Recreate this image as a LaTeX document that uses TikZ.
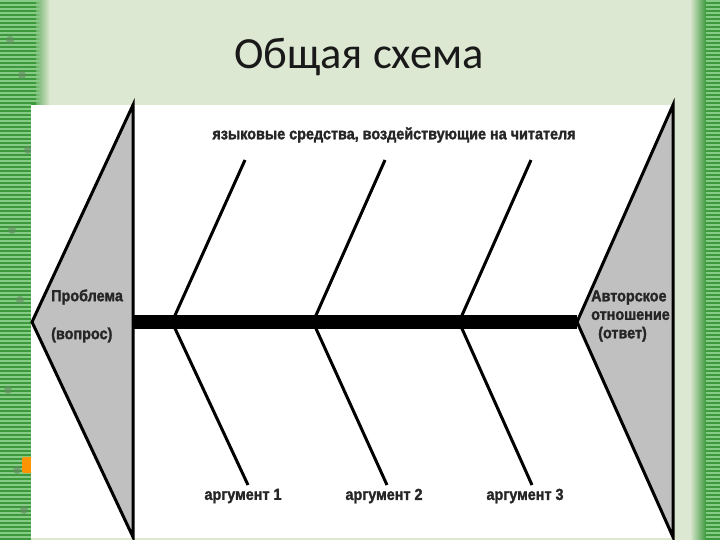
\documentclass[tikz,border=0pt]{standalone}
\usepackage{fontspec}
\setmainfont{Liberation Sans}
\newfontfamily\titlefont{Carlito}
\newfontfamily\lblfont[FakeStretch=0.9, FakeBold=1.6]{Liberation Sans Bold}
\definecolor{bgpale}{HTML}{DDE8D2}
\definecolor{stripdark}{HTML}{3C9A3C}
\definecolor{striplight}{HTML}{86CC86}
\definecolor{headgray}{HTML}{C0C0C0}
\tikzset{
  lbl/.style={font=\lblfont\fontsize{16}{18.5}\selectfont, inner sep=0pt, text=black!85},
  head/.style={fill=headgray, draw=black, line width=3pt, line join=miter},
  bone/.style={draw=black, line width=3pt},
}
\begin{document}
\begin{tikzpicture}[x=1pt,y=-1pt]
		\useasboundingbox (0,0) rectangle (720,540);
		% slide background
		\fill[bgpale] (0,0) rectangle (720,540);
		\shade[left color=stripdark, right color=bgpale] (30,0) rectangle (50,105);
		\fill[stripdark] (0,0) rectangle (36,105);
		\fill[stripdark] (0,105) rectangle (31,540);
		\foreach \y in {1,5,...,537} {
			\draw[striplight, line width=1.4pt] (0,\y) -- (31,\y);
		}
		\foreach \y in {1,5,...,101} {
			\draw[striplight, line width=1.4pt] (31,\y) -- (40,\y);
		}
		\foreach \cx/\cy in {10/40,22/75,28/150,12/230,20/300,8/390,17/470,24/510} {
			\fill[gray!60!stripdark, opacity=0.6] (\cx,\cy) circle (4pt);
		}
		\shade[left color=bgpale, right color=stripdark] (690,0) rectangle (706,540);
		\fill[stripdark] (706,0) rectangle (720,540);
		\foreach \y in {1,5,...,537} {
			\draw[striplight, line width=1.4pt] (706,\y) -- (720,\y);
		}
		\fill[orange!85!yellow, rounded corners=2pt] (22,457) rectangle (34,473);
		% white panel
		\fill[white] (31,105) rectangle (673,538);
		
		\node[font=\titlefont\fontsize{44.5}{48}\selectfont, text=black!90] (title) at (359,57) {Общая схема};
		
		\coordinate (LT) at (133,105);
		\coordinate (LB) at (133,537);
		\coordinate (LA) at (32,322);
		\coordinate (RT) at (673,105);
		\coordinate (RB) at (673,537);
		\coordinate (RA) at (577,322);
		\coordinate (S0) at (133,322);
		
		\draw[line width=14pt] (S0) -- (RA);
		\draw[head] (LT) -- (LA) -- (LB) -- cycle;
		\draw[head] (RT) -- (RA) -- (RB) -- cycle;
		
		\coordinate (S1) at (172,322);
		\coordinate (S2) at (313,322);
		\coordinate (S3) at (459,322);
		\coordinate (T1) at (245,160);
		\coordinate (T2) at (385,160);
		\coordinate (T3) at (531,160);
		\coordinate (B1) at (248,485);
		\coordinate (B2) at (387,485);
		\coordinate (B3) at (532,485);
		
		\draw[bone] (S1) -- (T1);
		\draw[bone] (S2) -- (T2);
		\draw[bone] (S3) -- (T3);
		\draw[bone] (S1) -- (B1);
		\draw[bone] (S2) -- (B2);
		\draw[bone] (S3) -- (B3);
		
		\node[lbl] (means) at (394,135) {языковые средства, воздействующие на читателя};
		\node[lbl, anchor=west] (problem) at (51,297) {Проблема};
		\node[lbl, anchor=west] (question) at (51,335) {(вопрос)};
		\node[lbl, align=left, anchor=west] (answer) at (591,316) {Авторское\\отношение\\\hspace*{7pt}(ответ)};
		\node[lbl] (arg1) at (243,496) {аргумент 1};
		\node[lbl] (arg2) at (384,496) {аргумент 2};
		\node[lbl] (arg3) at (525,496) {аргумент 3};
		%\draw[bone,red] (S1) -- (T3);
		\end{tikzpicture}
\end{document}
